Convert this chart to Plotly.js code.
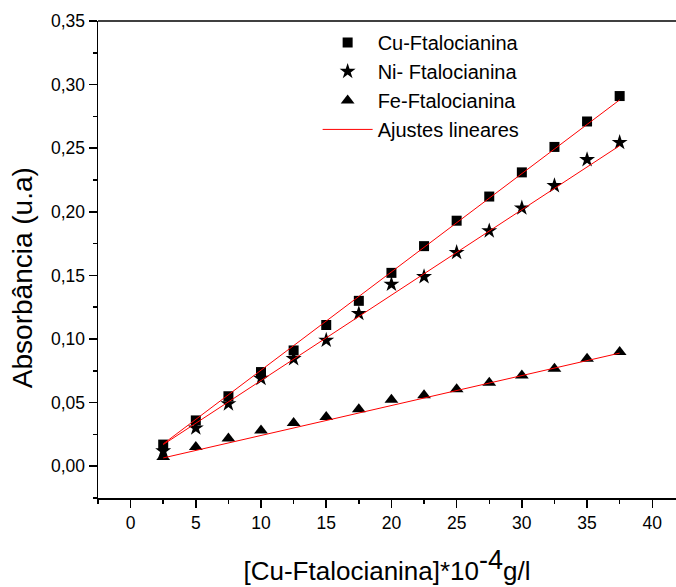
<!DOCTYPE html>
<html>
<head>
<meta charset="utf-8">
<script src="https://cdn.plot.ly/plotly-3.0.1.min.js"></script>
<style>html,body{margin:0;padding:0;background:#fff;}#chart{width:676px;height:587px;}</style>
</head>
<body>
<div id="chart"></div>
<script>
const concentration = [2.5, 5, 7.5, 10, 12.5, 15, 17.5, 20, 22.5, 25, 27.5, 30, 32.5, 35, 37.5];
const cuValues = [0.017, 0.036, 0.055, 0.074, 0.091, 0.111, 0.130, 0.152, 0.173, 0.193, 0.212, 0.231, 0.251, 0.271, 0.291];
const niValues = [0.012, 0.030, 0.049, 0.069, 0.0845, 0.099, 0.120, 0.143, 0.149, 0.168, 0.185, 0.203, 0.2205, 0.241, 0.2545];
const feValues = [0.0073, 0.0151, 0.0217, 0.028, 0.034, 0.0387, 0.0447, 0.0523, 0.0557, 0.0604, 0.0656, 0.0714, 0.0766, 0.0845, 0.0897];
const fitX = [2.5, 37.5];
const cuFit = [0.0175, 0.288];
const niFit = [0.017, 0.252];
const feFit = [0.0065, 0.0889];
const seriesNames = ["Cu-Ftalocianina", "Ni- Ftalocianina", "Fe-Ftalocianina", "Ajustes lineares"];
const xTicks = [0, 5, 10, 15, 20, 25, 30, 35, 40];
const yTicks = [0, 0.05, 0.10, 0.15, 0.20, 0.25, 0.30, 0.35];
const xTitle = "[Cu-Ftalocianina]*10<sup><span style='font-size:27px'>-4</span></sup>g/l";
const yTitle = "Absorbância (u.a)";

const fontFam = "Liberation Sans, Arial, sans-serif";
const data = [
  {x: concentration, y: cuValues, mode: "markers", type: "scatter", name: seriesNames[0],
   marker: {symbol: "square", size: 10, color: "#000"}},
  {x: concentration, y: niValues, mode: "markers", type: "scatter", name: seriesNames[1],
   marker: {symbol: "star", size: 12, color: "#000"}},
  {x: concentration, y: feValues, mode: "markers", type: "scatter", name: seriesNames[2],
   marker: {symbol: "triangle-up", size: 12, color: "#000"}},
  {x: fitX, y: cuFit, mode: "lines", type: "scatter", name: seriesNames[3],
   line: {color: "#ff0000", width: 1}, showlegend: true},
  {x: fitX, y: niFit, mode: "lines", type: "scatter", name: seriesNames[3],
   line: {color: "#ff0000", width: 1}, showlegend: false},
  {x: fitX, y: feFit, mode: "lines", type: "scatter", name: seriesNames[3],
   line: {color: "#ff0000", width: 1}, showlegend: false}
];

const layout = {
  width: 676, height: 587,
  margin: {l: 98, r: 0, t: 21, b: 89},
  paper_bgcolor: "#fff", plot_bgcolor: "#fff",
  separators: ",.",
  font: {family: fontFam, color: "#000", size: 17},
  showlegend: true,
  legend: {x: 0.38, y: 0.996, xanchor: "left", yanchor: "top", bgcolor: "rgba(0,0,0,0)",
           font: {size: 20, family: fontFam, color: "#000"}, itemwidth: 50, tracegroupgap: 0},
  xaxis: {
    range: [-2.5, 41.82], tickvals: xTicks, ticktext: xTicks.map(String),
    showgrid: false, zeroline: false, showline: true, linecolor: "#000", linewidth: 1.5,
    ticks: "outside", ticklen: 8, tickwidth: 1.5, tickcolor: "#000",
    minor: {dtick: 2.5, tick0: 0, ticks: "outside", ticklen: 4, tickwidth: 1.5, tickcolor: "#000"},
    tickfont: {size: 17.5, family: fontFam},
    title: {text: xTitle, font: {size: 26, family: fontFam}, standoff: 30}
  },
  yaxis: {
    range: [-0.025, 0.35], tickvals: yTicks, tickformat: ".2f",
    showgrid: false, zeroline: false, showline: true, linecolor: "#000", linewidth: 1.5,
    ticks: "outside", ticklen: 8, tickwidth: 1.5, tickcolor: "#000",
    minor: {dtick: 0.025, tick0: 0, ticks: "outside", ticklen: 4, tickwidth: 1.5, tickcolor: "#000"},
    tickfont: {size: 17.5, family: fontFam}
  },
  annotations: [{
    text: yTitle, xref: "paper", yref: "paper", x: -0.1315, y: 0.463,
    xanchor: "center", yanchor: "middle", textangle: -90, showarrow: false,
    font: {size: 28, family: fontFam, color: "#000"}
  }],
  shapes: [{type: "line", xref: "paper", yref: "paper", x0: 0, x1: 1, y0: 1, y1: 1,
            line: {color: "#000", width: 1.5}}]
};

Plotly.newPlot("chart", data, layout, {displayModeBar: false, staticPlot: true});
</script>
</body>
</html>
